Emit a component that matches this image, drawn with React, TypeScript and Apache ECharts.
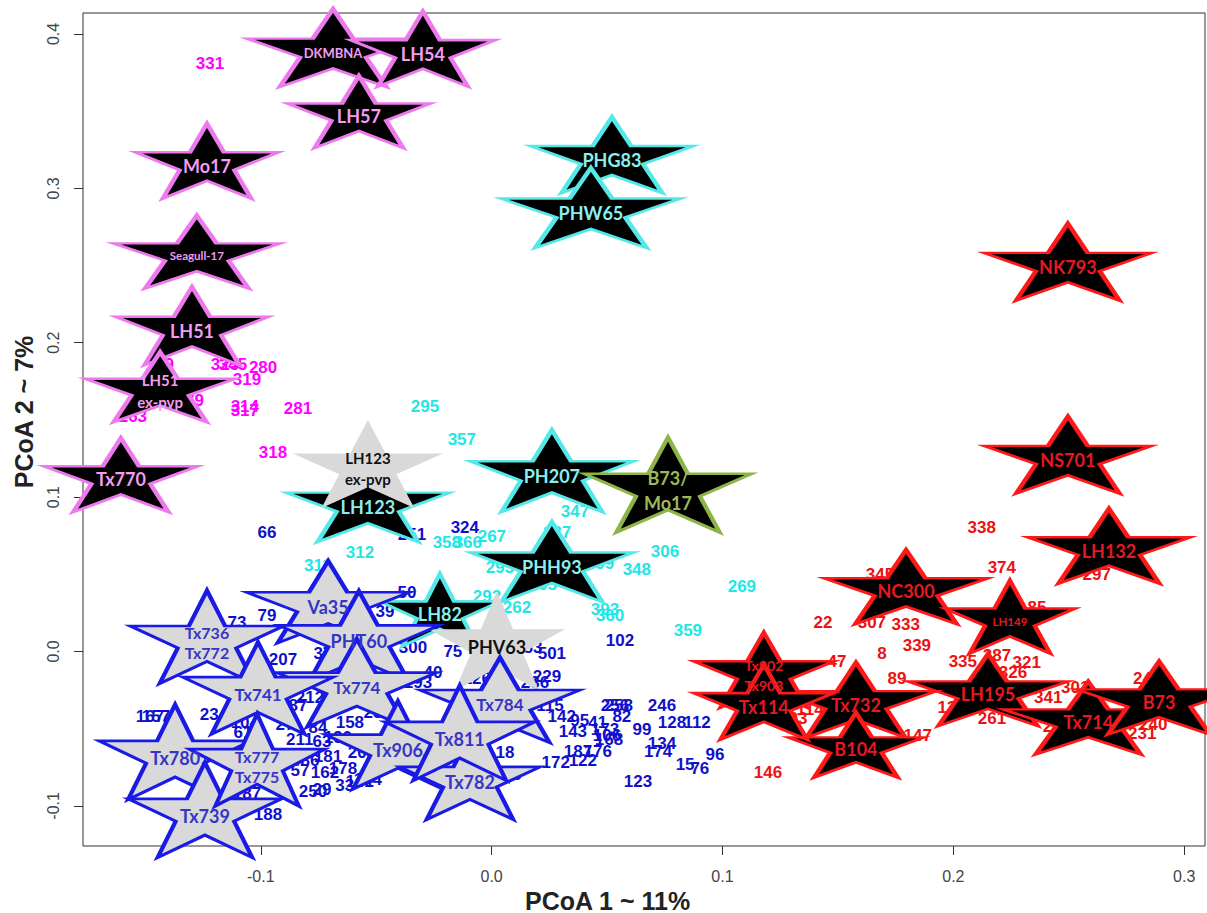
import React, { useEffect, useRef } from "react";
import * as echarts from "echarts";

// ---------- axes ----------
const X_MIN = -0.177;
const X_MAX = 0.309;
const Y_MIN = -0.126;
const Y_MAX = 0.4136;
const X_TICKS = [-0.1, 0.0, 0.1, 0.2, 0.3];
const Y_TICKS = [-0.1, 0.0, 0.1, 0.2, 0.3, 0.4];
const X_TITLE = "PCoA 1 ~ 11%";
const Y_TITLE = "PCoA 2 ~ 7%";

// ---------- reference lines (stars) ----------
const pinkStarNames = ["DKMBNA", "LH54", "LH57", "Mo17", "Seagull-17", "LH51", "LH51\nex-pvp", "Tx770"];
const pinkStarX = [-0.0687, -0.0298, -0.0575, -0.1233, -0.1277, -0.1298, -0.1436, -0.1606];
const pinkStarY = [0.391, 0.3903, 0.3495, 0.3177, 0.2588, 0.2109, 0.1713, 0.1143];

const cyanStarNames = ["PHG83", "PHW65", "PH207", "PHH93", "LH123", "LH82"];
const cyanStarX = [0.0521, 0.043, 0.0261, 0.0261, -0.0536, -0.0224];
const cyanStarY = [0.3216, 0.2873, 0.1169, 0.058, 0.0968, 0.0269];

const grayStarNames = ["LH123\nex-pvp", "PHV63"];
const grayStarX = [-0.0536, 0.0023];
const grayStarY = [0.1215, 0.0068];

const greenStarNames = ["B73/\nMo17"];
const greenStarX = [0.0764];
const greenStarY = [0.1079];

const redStarNames = ["NK793", "NS701", "LH132", "NC300", "LH149", "LH195", "Tx714", "B73", "Tx732", "B104", "Tx902\nTx903", "Tx114"];
const redStarX = [0.2496, 0.2496, 0.2674, 0.1795, 0.2245, 0.215, 0.2584, 0.2891, 0.1578, 0.1578, 0.1179, 0.1179];
const redStarY = [0.2523, 0.1273, 0.0683, 0.0418, 0.0223, -0.0249, -0.0431, -0.0301, -0.0314, -0.0606, -0.012, -0.0327];

const blueStarNames = ["Va35", "Tx736\nTx772", "PHT60", "Tx774", "Tx741", "Tx780", "Tx739", "Tx777\nTx775", "Tx784", "Tx906", "Tx782", "Tx811"];
const blueStarX = [-0.0708, -0.1233, -0.0575, -0.0584, -0.1012, -0.1371, -0.1242, -0.1016, 0.0036, -0.0406, -0.0094, -0.0138];
const blueStarY = [0.0321, 0.0094, 0.01, -0.0204, -0.0237, -0.0651, -0.1027, -0.0703, -0.0314, -0.0606, -0.0813, -0.0528];

// ---------- numbered samples ----------
const pinkNumLabels = ["331", "129", "325", "345", "280", "319", "279", "314", "317", "281", "263", "318"];
const pinkNumX = [-0.122, -0.1437, -0.1155, -0.112, -0.099, -0.106, -0.1307, -0.1069, -0.1069, -0.0839, -0.1554, -0.0947];
const pinkNumY = [0.3806, 0.1856, 0.1856, 0.1856, 0.1837, 0.176, 0.1629, 0.159, 0.1558, 0.1577, 0.1519, 0.1292];

const cyanNumLabels = ["295", "357", "358", "366", "267", "347", "137", "306", "348", "309", "293", "305", "269", "292", "262", "393", "360", "359", "312", "311"];
const cyanNumX = [-0.0289, -0.0129, -0.0194, -0.0103, 0.0001, 0.0361, 0.0283, 0.0751, 0.0629, 0.0469, 0.0036, 0.0222, 0.1084, -0.002, 0.011, 0.0491, 0.0513, 0.085, -0.057, -0.0753];
const cyanNumY = [0.1584, 0.137, 0.0709, 0.0709, 0.0742, 0.0904, 0.0768, 0.0645, 0.0528, 0.0573, 0.0547, 0.0431, 0.0418, 0.0353, 0.0282, 0.0269, 0.0236, 0.0139, 0.0638, 0.056];

const blueNumLabels = [
  "66", "251", "324", "50", "79", "73", "207", "37", "39", "300", "75", "40", "193", "126", "53", "501", "229", "236",
  "102", "115", "142", "95", "41", "143", "173", "106", "168", "256", "258", "82", "246", "128", "112", "99", "134",
  "174", "15", "76", "96", "123", "187", "176", "172", "122", "188", "250", "187", "144", "142", "178", "158", "201",
  "167", "157", "234", "212", "87", "104", "61", "27", "84", "211", "63", "190", "65", "86", "181", "57", "162", "33",
  "29", "98", "18", "68", "25",
];
const blueNumX = [
  -0.0973, -0.0345, -0.0116, -0.0367, -0.0973, -0.1103, -0.0904, -0.0731, -0.0462, -0.0341, -0.0168, -0.0254, -0.0319, -0.0064, 0.0179, 0.0261, 0.024, 0.0188,
  0.0556, 0.0253, 0.0304, 0.0382, 0.046, 0.0352, 0.0491, 0.05, 0.0508, 0.0534, 0.0551, 0.0564, 0.0738, 0.0781, 0.089, 0.0651, 0.0738,
  0.0721, 0.0838, 0.0902, 0.0967, 0.0634, 0.0374, 0.046, 0.0278, 0.0395, -0.0969, -0.0774, -0.106, -0.0536, -0.0571, -0.0644, -0.0614, -0.0562,
  -0.148, -0.1454, -0.1203, -0.0787, -0.0839, -0.1069, -0.1077, -0.0895, -0.0752, -0.0831, -0.0735, -0.0666, -0.0874, -0.0787, -0.0709, -0.083, -0.0722, -0.0636,
  -0.0735, -0.0939, 0.0058, 0.0088, -0.0514,
];
const blueNumY = [
  0.0774, 0.0755, 0.08, 0.0385, 0.023, 0.0185, -0.0049, -0.001, 0.0256, 0.0023, -0.0003, -0.0139, -0.0204, -0.0172, 0.0023, -0.001, -0.0165, -0.0204,
  0.0074, -0.0347, -0.0424, -0.045, -0.0463, -0.0521, -0.0508, -0.0547, -0.0573, -0.0353, -0.0353, -0.0418, -0.0353, -0.0457, -0.0457, -0.0508, -0.0599,
  -0.0651, -0.0729, -0.0755, -0.067, -0.0845, -0.0651, -0.0651, -0.0722, -0.0703, -0.1059, -0.091, -0.0917, -0.0826, -0.0839, -0.0755, -0.0457, -0.0657,
  -0.0424, -0.0424, -0.0411, -0.0301, -0.0347, -0.0463, -0.0528, -0.0476, -0.0495, -0.0573, -0.0586, -0.056, -0.067, -0.0703, -0.0677, -0.0768, -0.0781, -0.0871,
  -0.0897, -0.0768, -0.0657, -0.08, -0.0398,
];

const redNumLabels = ["338", "374", "297", "345", "22", "307", "333", "339", "8", "47", "89", "335", "387", "321", "326", "85", "341", "301", "356", "242", "240", "231", "261", "13", "213", "147", "146", "114", "93"];
const redNumX = [0.2123, 0.221, 0.2621, 0.1682, 0.1435, 0.1647, 0.1794, 0.1842, 0.1691, 0.1496, 0.1756, 0.2041, 0.2189, 0.2318, 0.2258, 0.2362, 0.2411, 0.2528, 0.2671, 0.284, 0.2866, 0.2818, 0.2167, 0.1972, 0.2449, 0.1846, 0.1197, 0.1379, 0.1327];
const redNumY = [0.0801, 0.0541, 0.0496, 0.0496, 0.0185, 0.0191, 0.0172, 0.0042, -0.0016, -0.0068, -0.0172, -0.0068, -0.0023, -0.0074, -0.0139, 0.0282, -0.0295, -0.0236, -0.0288, -0.0172, -0.0476, -0.0534, -0.0431, -0.0366, -0.0489, -0.0541, -0.0787, -0.0373, -0.0431];

// ---------- styles ----------
const STAR_PATH =
  "path://M0,-100L22.45,-30.9L95.1,-30.9L36.3,11.8L58.8,80.9L0,38.2L-58.8,80.9L-36.3,11.8L-95.1,-30.9L-22.45,-30.9Z";
const NUM_FONT = '"Liberation Sans", Arial, sans-serif';
const STAR_FONT = 'Lato, "Open Sans", sans-serif';

const STAR_SIZE: Record<string, [number, number]> = {
  DKMBNA: [172, 78], LH54: [145, 75], LH57: [143, 72], Mo17: [143, 75], "Seagull-17": [167, 73], LH51: [153, 78],
  "LH51\nex-pvp": [150, 70], Tx770: [154, 74], PHG83: [163, 76], PHW65: [180, 80], PH207: [163, 82], PHH93: [163, 80],
  LH123: [163, 80], LH82: [120, 72], "LH123\nex-pvp": [150, 88], PHV63: [136, 100], "B73/\nMo17": [167, 95],
  NK793: [167, 77], NS701: [167, 77], LH132: [163, 75], NC300: [164, 74], LH149: [130, 73], LH195: [160, 72],
  Tx714: [170, 73], B73: [165, 73], Tx732: [160, 75], B104: [135, 65], "Tx902\nTx903": [140, 75], Tx114: [140, 75],
  Va35: [163, 82], "Tx736\nTx772": [153, 93], PHT60: [160, 90], Tx741: [150, 92], Tx774: [160, 88], Tx780: [152, 95],
  "Tx777\nTx775": [135, 92], Tx739: [153, 95], Tx784: [160, 85], Tx811: [150, 95], Tx906: [145, 88], Tx782: [140, 85],
};
const STAR_FONT_SIZE: Record<string, number> = {
  DKMBNA: 13, "Seagull-17": 11.5, LH149: 11.5, "Tx902\nTx903": 14, "LH51\nex-pvp": 15, "LH123\nex-pvp": 15,
  "Tx736\nTx772": 16, "Tx777\nTx775": 16, "Tx784": 17, Tx741: 17, Tx774: 17,
};
const STAR_LINE_HEIGHT: Record<string, number> = {
  "LH51\nex-pvp": 22, "LH123\nex-pvp": 21, "B73/\nMo17": 25, "Tx736\nTx772": 20, "Tx777\nTx775": 20, "Tx902\nTx903": 20,
};

type Look = { fill: string; border: string; bw: number; text: string };
const PINK: Look = { fill: "#000", border: "#EE78EE", bw: 3.5, text: "#F39CF3" };
const CYAN: Look = { fill: "#000", border: "#55E8E8", bw: 3.5, text: "#8AEFEF" };
const GRAY: Look = { fill: "#D9D9D9", border: "#D9D9D9", bw: 0, text: "#111" };
const GREEN: Look = { fill: "#000", border: "#8DB446", bw: 3.5, text: "#9BBB59" };
const RED: Look = { fill: "#000", border: "#FF1818", bw: 3.5, text: "#E81820" };
const BLUE: Look = { fill: "#D9D9D9", border: "#1A1AE6", bw: 3.5, text: "#3535C6" };

function starItems(names: string[], xs: number[], ys: number[], look: Look) {
  return names.map((n, i) => {
    const [w, h] = STAR_SIZE[n] || [160, 78];
    const fs = STAR_FONT_SIZE[n] || 18;
    return {
      name: n,
      value: [xs[i], ys[i]],
      symbolSize: [w, h],
      itemStyle: { color: look.fill, borderColor: look.border, borderWidth: look.bw, opacity: 1 },
      label: {
        color: look.text,
        fontSize: fs,
        lineHeight: STAR_LINE_HEIGHT[n] || Math.round(fs * 1.2),
        offset: [0, Math.round(h * 0.06)],
      },
    };
  });
}

function starSeries(data: any[], z: number) {
  return {
    type: "scatter",
    z,
    silent: true,
    clip: false,
    symbol: STAR_PATH,
    itemStyle: { opacity: 1 },
    emphasis: { disabled: true },
    label: {
      show: true,
      position: "inside",
      formatter: "{b}",
      fontFamily: STAR_FONT,
      fontWeight: "bold",
    },
    data,
  };
}

function numSeries(labels: string[], xs: number[], ys: number[], color: string) {
  return {
    type: "scatter",
    z: 2,
    silent: true,
    clip: false,
    symbol: "circle",
    symbolSize: 1,
    itemStyle: { color: "rgba(0,0,0,0)", opacity: 1 },
    emphasis: { disabled: true },
    label: {
      show: true,
      position: "inside",
      formatter: "{b}",
      color,
      opacity: 1,
      fontSize: 17,
      fontWeight: "bold",
      fontFamily: NUM_FONT,
    },
    data: labels.map((n, i) => ({ name: n, value: [xs[i], ys[i]] })),
  };
}

export default function App() {
  const ref = useRef<HTMLDivElement>(null);

  useEffect(() => {
    if (!ref.current) return;
    const chart = echarts.init(ref.current, undefined, { renderer: "svg" });

    const axisCommon = {
      type: "value",
      splitLine: { show: false },
      axisLine: { show: false, onZero: false },
      axisTick: { show: true, length: 9, lineStyle: { color: "#333", width: 1 } },
    };

    const blackStars = [
      ...starItems(pinkStarNames, pinkStarX, pinkStarY, PINK),
      ...starItems(cyanStarNames, cyanStarX, cyanStarY, CYAN),
      ...starItems(grayStarNames, grayStarX, grayStarY, GRAY),
      ...starItems(greenStarNames, greenStarX, greenStarY, GREEN),
      ...starItems(redStarNames, redStarX, redStarY, RED),
    ];
    const blueStars = starItems(blueStarNames, blueStarX, blueStarY, BLUE);

    chart.setOption({
      animation: false,
      backgroundColor: "#fff",
      grid: {
        left: 83,
        right: 2,
        top: 13,
        bottom: 67,
        show: true,
        borderColor: "#333",
        borderWidth: 1,
        backgroundColor: "transparent",
      },
      xAxis: {
        ...axisCommon,
        min: X_MIN,
        max: X_MAX,
        axisTick: { ...axisCommon.axisTick, customValues: X_TICKS },
        axisLabel: {
          customValues: X_TICKS,
          formatter: (v: number) => v.toFixed(1),
          margin: 22,
          fontSize: 16,
          color: "#444",
          fontFamily: NUM_FONT,
        },
      },
      yAxis: {
        ...axisCommon,
        min: Y_MIN,
        max: Y_MAX,
        axisTick: { ...axisCommon.axisTick, customValues: Y_TICKS },
        axisLabel: {
          customValues: Y_TICKS,
          formatter: (v: number) => v.toFixed(1),
          rotate: 90,
          margin: 22,
          fontSize: 16,
          color: "#444",
          fontFamily: NUM_FONT,
        },
      },
      graphic: [
        {
          type: "text",
          left: 615 - 90,
          top: 888,
          style: {
            text: X_TITLE,
            fill: "#222",
            font: 'bold 25px "Liberation Sans", Arial, sans-serif',
            width: 180,
            align: "center",
          },
        },
        {
          type: "text",
          x: 24,
          y: 412,
          rotation: Math.PI / 2,
          style: {
            text: Y_TITLE,
            fill: "#222",
            font: 'bold 25px "Liberation Sans", Arial, sans-serif',
            align: "center",
            verticalAlign: "middle",
          },
        },
      ],
      series: [
        numSeries(pinkNumLabels, pinkNumX, pinkNumY, "#FF00FF"),
        numSeries(cyanNumLabels, cyanNumX, cyanNumY, "#22E6E6"),
        numSeries(blueNumLabels, blueNumX, blueNumY, "#1010CC"),
        numSeries(redNumLabels, redNumX, redNumY, "#EE1111"),
        starSeries(blackStars, 3),
        starSeries(blueStars, 4),
      ],
    });

    return () => chart.dispose();
  }, []);

  return (
    <div
      ref={ref}
      style={{ position: "absolute", left: 0, top: 0, width: 1207, height: 913, background: "#fff" }}
    />
  );
}
